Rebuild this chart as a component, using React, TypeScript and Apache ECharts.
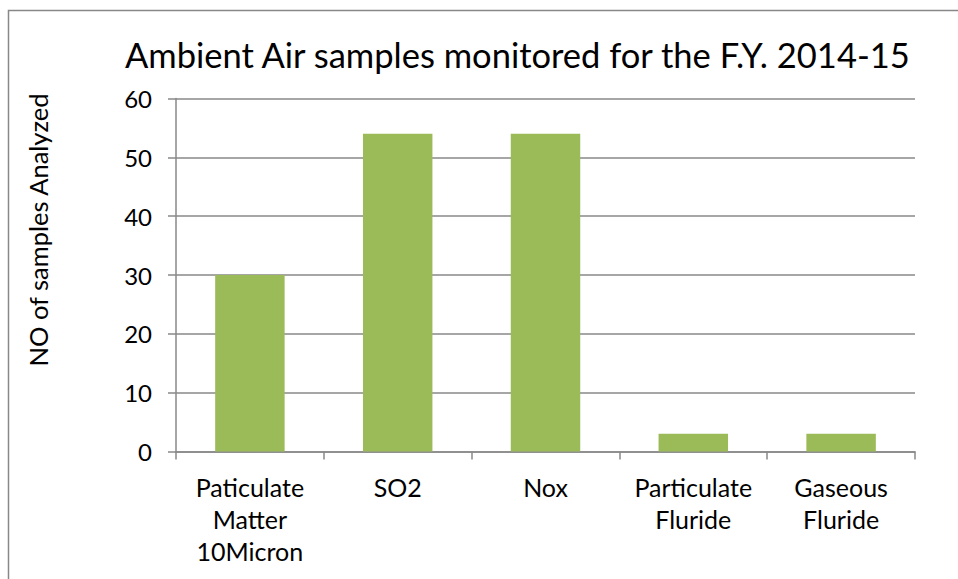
import React, { useEffect, useRef } from "react";
import * as echarts from "echarts";

const categories = ["Paticulate Matter 10Micron", "SO2", "Nox", "Particulate Fluride", "Gaseous Fluride"];
const samples = [30, 54, 54, 3, 3];
const chartTitle = "Ambient Air samples monitored for the F.Y. 2014-15";
const yAxisTitle = "NO of samples Analyzed";
const yMin = 0;
const yMax = 60;
const yStep = 10;

const FONT = "Lato";
const GRAY = "#888888";

export default function App() {
  const ref = useRef<HTMLDivElement>(null);
  useEffect(() => {
    if (!ref.current) return;
    const chart = echarts.init(ref.current, null, { renderer: "svg" });
    chart.setOption({
      animation: false,
      backgroundColor: "#ffffff",
      textStyle: { fontFamily: FONT },
      graphic: [
        {
          type: "rect",
          shape: { x: 8.5, y: 10.5, width: 1000, height: 700 },
          style: { fill: "none", stroke: GRAY, lineWidth: 1.5 },
          silent: true,
        },
        {
          type: "text",
          x: 125,
          y: 54,
          style: {
            text: chartTitle,
            fontFamily: FONT,
            fontSize: 34.5,
            fill: "#000000",
            textAlign: "left",
            textVerticalAlign: "middle",
          },
        },
        {
          type: "text",
          x: 38,
          y: 230,
          rotation: Math.PI / 2,
          style: {
            text: yAxisTitle,
            fontFamily: FONT,
            fontSize: 25.5,
            fill: "#000000",
            textAlign: "center",
            textVerticalAlign: "middle",
          },
        },
      ],
      grid: { left: 176, top: 98.5, width: 739, height: 353 },
      xAxis: {
        type: "category",
        data: categories,
        boundaryGap: true,
        axisLine: { show: true, lineStyle: { color: GRAY, width: 1.5 } },
        axisTick: { show: true, length: 8, alignWithLabel: false, lineStyle: { color: GRAY, width: 1.5 } },
        axisLabel: {
          interval: 0,
          margin: 19,
          color: "#000000",
          fontFamily: FONT,
          fontSize: 25,
          lineHeight: 32,
          formatter: (v: string) => v.split(" ").join("\n"),
        },
        splitLine: { show: false },
      },
      yAxis: {
        type: "value",
        min: yMin,
        max: yMax,
        interval: yStep,
        axisLine: { show: true, lineStyle: { color: GRAY, width: 1.5 } },
        axisTick: { show: true, length: 8, lineStyle: { color: GRAY, width: 1.5 } },
        axisLabel: { margin: 24, color: "#000000", fontFamily: FONT, fontSize: 24 },
        splitLine: { show: true, lineStyle: { color: GRAY, width: 1.5 } },
      },
      series: [
        {
          type: "bar",
          data: samples,
          barWidth: "47%",
          itemStyle: { color: "#9BBB59" },
        },
      ],
    });
    return () => chart.dispose();
  }, []);
  return (
    <div
      ref={ref}
      style={{ position: "fixed", left: 0, top: 0, width: 958, height: 579, background: "#fff" }}
    />
  );
}
